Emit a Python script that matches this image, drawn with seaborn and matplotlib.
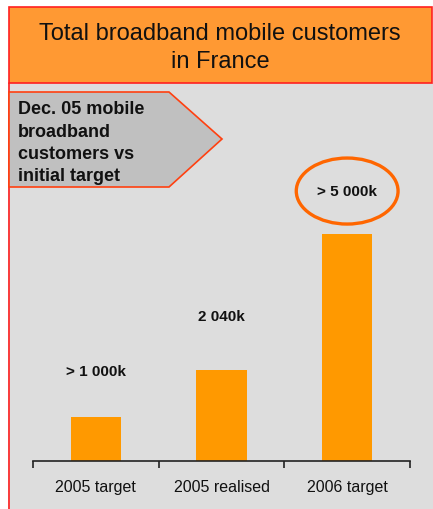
import matplotlib
matplotlib.use("Agg")
import matplotlib.pyplot as plt
import seaborn as sns
import pandas as pd
from matplotlib.patches import Rectangle, Polygon, Ellipse

categories = ["2005 target", "2005 realised", "2006 target"]
values = [1000, 2040, 5100]
value_labels = ["> 1 000k", "2 040k", "> 5 000k"]
title = "Total broadband mobile customers\nin France"
callout = "Dec. 05 mobile\nbroadband\ncustomers vs\ninitial target"

sns.set_theme(style="white")
plt.rcParams['font.family'] = ['Liberation Sans', 'DejaVu Sans']

W, H = 433, 510
fig = plt.figure(figsize=(W / 100, H / 100), dpi=100)
fig.patch.set_facecolor("white")

def fx(px):
    return px / W

def fy(py):
    return 1 - py / H

# gray background panel
fig.patches.append(Rectangle((fx(8), 0), fx(433) - fx(8), fy(84), transform=fig.transFigure,
                             facecolor="#DDDDDD", edgecolor="none", zorder=0))
# red left border line
fig.add_artist(plt.Line2D([fx(8.5), fx(8.5)], [0, fy(84)], transform=fig.transFigure,
                          color="#FF2020", lw=1.2, zorder=1))
# title box
fig.patches.append(Rectangle((fx(8.5), fy(84)), fx(432) - fx(8.5), fy(7.5) - fy(84),
                             transform=fig.transFigure, facecolor="#FF9933",
                             edgecolor="#FF2020", lw=1.2, zorder=1))
fig.text(fx(220), fy(48), title, ha="center", va="center", fontsize=17,
         color="#111111", linespacing=1.33, zorder=2)

# callout arrow
pts = [(9, 93), (169, 93), (222, 140), (169, 188), (9, 188)]
fig.patches.append(Polygon([(fx(x), fy(y)) for x, y in pts], closed=True,
                           transform=fig.transFigure, facecolor="#C0C0C0",
                           edgecolor="#FF4010", lw=1.2, zorder=1))
fig.text(fx(18), fy(101.5), callout, ha="left", va="top", fontsize=13,
         fontweight="bold", color="#111111", linespacing=1.41, zorder=2)

# bar axes
ax_left, ax_right, ax_top, ax_bottom = 33, 410, 95, 462
ax = fig.add_axes([fx(ax_left), fy(ax_bottom), fx(ax_right) - fx(ax_left), fy(ax_top) - fy(ax_bottom)])
ax.set_zorder(5)
ax.set_facecolor("none")
df = pd.DataFrame({"cat": categories, "val": values})
sns.barplot(data=df, x="cat", y="val", color="#FF9900", width=0.4, saturation=1,
            linewidth=0, edgecolor="none", ax=ax)
px_per_unit = 44.5 / 1000
ax.set_ylim(0, (ax_bottom - ax_top) / px_per_unit)
ax.set_xlim(-0.5, 2.5)
for s in ["left", "top", "right"]:
    ax.spines[s].set_visible(False)
ax.spines["bottom"].set_color("#222222")
ax.spines["bottom"].set_linewidth(1.2)
ax.set_yticks([])
ax.set_xlabel("")
ax.set_ylabel("")
ax.set_xticks([-0.5, 0.5, 1.5, 2.5])
ax.set_xticklabels([])
ax.set_xticks([0, 1, 2], minor=True)
ax.set_xticklabels(categories, minor=True, fontsize=11.5, color="#111111")
ax.tick_params(axis="x", which="major", length=5, width=1.2, color="#222222", direction="out", bottom=True)
ax.tick_params(axis="x", which="minor", length=0, pad=13)

# value labels (pixel offsets above bar tops)
label_offsets_px = [46, 54, 43]
for i, (v, lab, off) in enumerate(zip(values, value_labels, label_offsets_px)):
    ax.text(i, v + off / px_per_unit, lab, ha="center", va="center", fontsize=11,
            fontweight="bold", color="#111111")

# highlight ellipse around last label
ax.add_patch(Ellipse((2, values[2] + label_offsets_px[2] / px_per_unit), 0.81, 66 / px_per_unit,
                     facecolor="none", edgecolor="#FF6600", lw=2.4, clip_on=False))

fig.savefig("out.png", dpi=100, facecolor=fig.get_facecolor())
